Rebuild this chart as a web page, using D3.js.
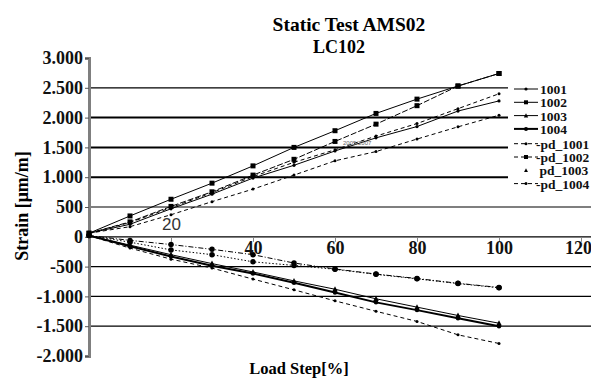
<!DOCTYPE html>
<html><head><meta charset="utf-8">
<script src="https://cdn.jsdelivr.net/npm/d3@7"></script>
<style>body{margin:0;background:#fff}svg{display:block}</style>
</head><body><svg id="c" width="591" height="379"></svg>
<script>
const loadSteps = [0,10,20,30,40,50,60,70,80,90,100];
const s1001   = [60,210,470,715,985,1200,1440,1660,1850,2110,2280];
const s1002   = [60,350,630,900,1190,1500,1780,2070,2310,2530,2740];
const s1003   = [20,-140,-300,-450,-590,-740,-880,-1040,-1180,-1320,-1450];
const s1004   = [20,-160,-330,-485,-615,-770,-935,-1100,-1230,-1365,-1500];
const pd1001  = [60,170,370,590,800,1035,1275,1430,1640,1845,2040];
const pd1002  = [60,250,510,755,1035,1300,1600,1890,2200,2530,2740];
const pd1003  = [20,-60,-130,-210,-300,-440,-540,-625,-700,-780,-850];
const pd1004  = [20,-190,-375,-525,-710,-890,-1075,-1250,-1420,-1645,-1790];
const extraA  = [60,240,490,740,1010,1250,1460,1690,1900,2150,2400];
const extraB  = [20,-90,-220,-300,-420,-480,-545,-630,-705,-785,-855];
const seriesNames = ["1001","1002","1003","1004","pd_1001","pd_1002","pd_1003","pd_1004"];
const seriesValues = [s1001,s1002,s1003,s1004,pd1001,pd1002,pd1003,pd1004];
const extraValues = [extraA, extraB];
const yTicks = [3000,2500,2000,1500,1000,500,0,-500,-1000,-1500,-2000];
const xTicks = [20,40,60,80,100,120];
const title1 = "Static Test AMS02", title2 = "LC102";
const yTitle = "Strain [μm/m]", xTitle = "Load Step[%]";

// styles
const styles = {
  "1001":    {w:1,   dash:null,   m:"circle",  ms:3.2},
  "1002":    {w:1,   dash:null,   m:"square",  ms:5},
  "1003":    {w:1,   dash:null,   m:"triangle",ms:5},
  "1004":    {w:2,   dash:null,   m:"circle",  ms:4.5},
  "pd_1001": {w:1,   dash:"4,3",  m:"circle",  ms:3},
  "pd_1002": {w:1,   dash:"6,2",  m:"square",  ms:5},
  "pd_1003": {w:1,   dash:"5,2,1,2", m:"circle", ms:5.5, legendNoLine:true, legendM:"triangle"},
  "pd_1004": {w:1,   dash:"4,3",  m:"circle",  ms:3},
};
const extraStyles = [{w:1,dash:"4,3",m:"circle",ms:3},{w:1,dash:"1.5,2",m:"circle",ms:5.5}];

const svg = d3.select("#c");
const x = d3.scaleLinear().domain([0,120]).range([89,581]);
const y = d3.scaleLinear().domain([-2000,3000]).range([356,58]);
const serif = "'Liberation Serif','Times New Roman',serif";
const fmt = v => v===0 ? "0" : d3.format(",")(v).replace(/,/g,".").replace("−","-");

// gridlines
const thick = new Set([2000,1500,1000]);
svg.append("g").selectAll("line").data(yTicks.filter(v=>v!==3000 && v!==-2000)).join("line")
  .attr("x1",89).attr("x2",591).attr("y1",d=>y(d)).attr("y2",d=>y(d))
  .attr("stroke","#000").attr("stroke-width",d=>thick.has(d)?2:1.2);

// y axis
const yAxis = d3.axisLeft(y).tickValues(yTicks).tickSize(4).tickFormat(fmt);
const ga = svg.append("g").attr("transform","translate(89,0)").call(yAxis);
ga.select(".domain").attr("stroke","#7f7f7f").attr("stroke-width",3);
ga.selectAll(".tick line").attr("stroke","#555");
ga.selectAll(".tick text").attr("font-family",serif).attr("font-size",18).attr("font-weight","bold")
  .attr("fill","#111").attr("x",-6);

// x ticks on zero line
const xAxis = d3.axisBottom(x).tickValues(xTicks).tickSize(4).tickFormat(d3.format("d"));
const gx = svg.append("g").attr("transform",`translate(0,${y(0)})`).call(xAxis);
gx.select(".domain").remove();
gx.selectAll(".tick line").attr("stroke","#888").attr("transform","translate(0,1)");
gx.selectAll(".tick text").attr("font-family",serif).attr("font-size",18).attr("font-weight","bold")
  .attr("fill","#111").attr("y",4);
gx.selectAll(".tick").filter(d=>d===120).select("text").attr("dx",-3);
gx.selectAll(".tick").filter(d=>d===20).select("text")
  .attr("font-family","'Liberation Sans',Arial,sans-serif").attr("font-weight","normal").attr("font-size",17)
  .attr("fill","#333").attr("y",-19);

// series drawing
function marker(g, type, cx, cy, s){
  if(type==="square") g.append("rect").attr("x",cx-s/2).attr("y",cy-s/2).attr("width",s).attr("height",s).attr("fill","#000");
  else if(type==="triangle") g.append("path").attr("d",`M${cx},${cy-s*0.6}L${cx+s*0.55},${cy+s*0.45}L${cx-s*0.55},${cy+s*0.45}Z`).attr("fill","#000");
  else g.append("circle").attr("cx",cx).attr("cy",cy).attr("r",s/2).attr("fill","#000");
}
const line = d3.line().x((d,i)=>x(loadSteps[i])).y(d=>y(d));
function drawSeries(vals, st){
  const g = svg.append("g");
  g.append("path").attr("d",line(vals)).attr("fill","none").attr("stroke","#000")
    .attr("stroke-width",st.w).attr("stroke-dasharray",st.dash);
  vals.forEach((v,i)=>marker(g, st.m, x(loadSteps[i]), y(v), st.ms));
}
extraValues.forEach((v,i)=>drawSeries(v, extraStyles[i]));
seriesValues.forEach((v,i)=>drawSeries(v, styles[seriesNames[i]]));

// small artifact label
svg.append("text").attr("x",343).attr("y",145).attr("font-family","'Liberation Sans',sans-serif")
  .attr("font-size",6).attr("fill","#666").text("2005 2007");

// legend
const lg = svg.append("g");
lg.append("rect").attr("x",508).attr("y",80).attr("width",83).attr("height",112).attr("fill","#fff");
seriesNames.forEach((n,i)=>{
  const st = styles[n];
  const ly = 89 + i*13.3 + (i>=4?1.5:0);
  const row = lg.append("g");
  if(!st.legendNoLine){
    row.append("line").attr("x1",514).attr("x2",538).attr("y1",ly).attr("y2",ly)
      .attr("stroke","#000").attr("stroke-width",st.w).attr("stroke-dasharray",st.dash?"4,3":null);
  }
  marker(row, st.legendM||st.m, 526, ly, st.legendNoLine?3.5:Math.min(st.ms,4));
  const isPd = n.startsWith("pd");
  row.append("text").attr("x",isPd ? 536 : 540).attr("y",ly+5).attr("font-family",serif).attr("font-size",13.5)
    .attr("font-weight","bold").attr("fill","#111")
    .text(isPd && !st.legendNoLine ? "-"+n : (st.legendNoLine ? "\u00a0"+n : n));
});

// titles
svg.append("text").attr("x",349).attr("y",31).attr("text-anchor","middle").attr("font-family",serif)
  .attr("font-size",19.5).attr("font-weight","bold").text(title1);
svg.append("text").attr("x",339).attr("y",53).attr("text-anchor","middle").attr("font-family",serif)
  .attr("font-size",18).attr("font-weight","bold").text(title2);
svg.append("text").attr("transform","translate(28,206) rotate(-90)").attr("text-anchor","middle")
  .attr("font-family",serif).attr("font-size",18).attr("font-weight","bold").text(yTitle);
svg.append("text").attr("x",299).attr("y",374).attr("text-anchor","middle").attr("font-family",serif)
  .attr("font-size",16.5).attr("font-weight","bold").text(xTitle);
</script></body></html>
